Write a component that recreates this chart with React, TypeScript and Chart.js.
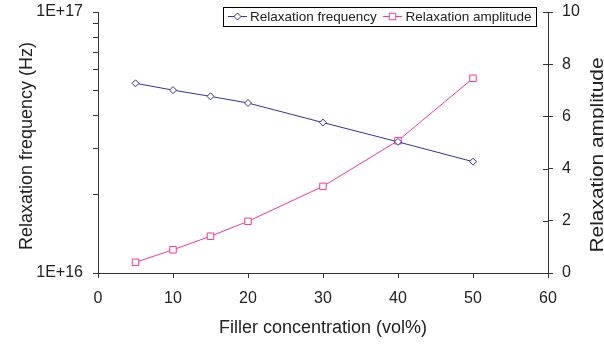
import React, { useEffect, useRef } from 'react';
import { Chart, registerables } from 'chart.js';

Chart.register(...registerables);

// Filler concentration (vol%) of each sample
const fillerConc = [5, 10, 15, 20, 30, 40, 50];
// Relaxation frequency (Hz), left logarithmic axis
const relaxFrequency = [5.33e16, 5.02e16, 4.75e16, 4.48e16, 3.77e16, 3.18e16, 2.67e16];
// Relaxation amplitude, right linear axis
const relaxAmplitude = [0.41, 0.89, 1.41, 1.98, 3.32, 5.07, 7.46];

const seriesNames = ['Relaxation frequency', 'Relaxation amplitude'];
const freqTicks = [1e16, 2e16, 3e16, 4e16, 5e16, 6e16, 7e16, 8e16, 9e16, 1e17];
const freqTickLabels = ['1E+16', '1E+17'];
const ampTicks = [0, 2, 4, 6, 8, 10];
const concTicks = [0, 10, 20, 30, 40, 50, 60];

const xTitle = 'Filler concentration (vol%)';
const yLeftTitle = 'Relaxation frequency (Hz)';
const yRightTitle = 'Relaxation amplitude';

const FONT = 'Arial, "Liberation Sans", sans-serif';
const TEXT = '#222222';
const AXIS = '#333333';
const FREQ_COLOR = '#333399';
const AMP_COLOR = '#F0399A';

function drawMarker(ctx: CanvasRenderingContext2D, style: string, r: number, x: number, y: number, color: string) {
  ctx.save();
  ctx.strokeStyle = color;
  ctx.fillStyle = '#ffffff';
  ctx.lineWidth = 1;
  ctx.beginPath();
  if (style === 'rectRot') {
    ctx.moveTo(x - r, y);
    ctx.lineTo(x, y - r);
    ctx.lineTo(x + r, y);
    ctx.lineTo(x, y + r);
    ctx.closePath();
  } else {
    const s = Math.SQRT1_2 * r;
    ctx.rect(x - s, y - s, 2 * s, 2 * s);
  }
  ctx.fill();
  ctx.stroke();
  ctx.restore();
}

// Axis titles, crossing right-axis ticks and the boxed legend
const overlayPlugin = {
  id: 'overlay',
  afterDraw(chart: any) {
    const { ctx, chartArea, scales } = chart;
    const right = scales.yAmp;
    ctx.save();

    ctx.strokeStyle = AXIS;
    ctx.lineWidth = 1;
    ctx.beginPath();
    for (const v of ampTicks) {
      const py = Math.round(right.getPixelForValue(v)) + 0.5;
      ctx.moveTo(chartArea.right - 5, py);
      ctx.lineTo(chartArea.right, py);
    }
    ctx.stroke();

    ctx.fillStyle = TEXT;
    ctx.font = `18px ${FONT}`;
    ctx.textAlign = 'center';
    ctx.textBaseline = 'alphabetic';
    ctx.fillText(xTitle, (chartArea.left + chartArea.right) / 2, 333);

    ctx.save();
    ctx.translate(31.5, 146);
    ctx.rotate(-Math.PI / 2);
    ctx.fillText(yLeftTitle, 0, 0);
    ctx.restore();

    ctx.save();
    ctx.translate(603, 155);
    ctx.rotate(-Math.PI / 2);
    ctx.scale(1.16, 1);
    ctx.fillText(yRightTitle, 0, 0);
    ctx.restore();

    const bx = 223.5, by = 7.5, bw = 313, bh = 19;
    ctx.fillStyle = '#ffffff';
    ctx.fillRect(bx, by, bw, bh);
    ctx.strokeStyle = '#000000';
    ctx.strokeRect(bx, by, bw, bh);

    const cy = 16.5;
    const entries = [
      { x0: 228, color: FREQ_COLOR, style: 'rectRot', radius: 3.5, tx: 250 },
      { x0: 383, color: AMP_COLOR, style: 'rect', radius: 4.6, tx: 405.5 },
    ];
    ctx.font = `13.5px ${FONT}`;
    ctx.textAlign = 'left';
    ctx.textBaseline = 'middle';
    entries.forEach((e, i) => {
      ctx.strokeStyle = e.color;
      ctx.lineWidth = 1;
      ctx.beginPath();
      ctx.moveTo(e.x0, cy);
      ctx.lineTo(e.x0 + 19, cy);
      ctx.stroke();
      drawMarker(ctx, e.style, e.radius, e.x0 + 9.5, cy, e.color);
      ctx.fillStyle = TEXT;
      ctx.fillText(seriesNames[i], e.tx, cy + 0.5);
    });

    ctx.restore();
  },
};

export default function App() {
  const canvasRef = useRef<HTMLCanvasElement | null>(null);

  useEffect(() => {
    const canvas = canvasRef.current;
    if (!canvas) return;

    const chart = new Chart(canvas, {
      type: 'line',
      data: {
        datasets: [
          {
            label: seriesNames[0],
            data: fillerConc.map((x, i) => ({ x, y: relaxFrequency[i] })),
            yAxisID: 'yFreq',
            borderColor: FREQ_COLOR,
            borderWidth: 1,
            pointStyle: 'rectRot',
            pointRadius: 3.5,
            pointBackgroundColor: '#ffffff',
            pointBorderColor: FREQ_COLOR,
            pointBorderWidth: 1,
            tension: 0,
          },
          {
            label: seriesNames[1],
            data: fillerConc.map((x, i) => ({ x, y: relaxAmplitude[i] })),
            yAxisID: 'yAmp',
            borderColor: AMP_COLOR,
            borderWidth: 1,
            pointStyle: 'rect',
            pointRadius: 4.6,
            pointBackgroundColor: '#ffffff',
            pointBorderColor: AMP_COLOR,
            pointBorderWidth: 1,
            tension: 0,
          },
        ],
      },
      options: {
        responsive: false,
        animation: false,
        events: [],
        layout: { padding: { top: 12, left: 0, right: 0, bottom: 0 } },
        plugins: {
          legend: { display: false },
          tooltip: { enabled: false },
        },
        scales: {
          x: {
            type: 'linear',
            position: 'bottom',
            min: 0,
            max: 60,
            afterBuildTicks: (scale: any) => {
              scale.ticks = concTicks.map((value) => ({ value }));
            },
            afterFit: (scale: any) => {
              scale.height = 72;
            },
            grid: { drawOnChartArea: false, drawTicks: true, tickLength: 5, color: AXIS },
            border: { display: true, color: AXIS, width: 1 },
            ticks: {
              padding: 11,
              color: TEXT,
              font: { family: FONT, size: 16 },
              maxRotation: 0,
              autoSkip: false,
            },
          },
          yFreq: {
            type: 'logarithmic',
            position: 'left',
            min: 1e16,
            max: 1e17,
            afterBuildTicks: (scale: any) => {
              scale.ticks = freqTicks.map((value) => ({ value }));
            },
            afterFit: (scale: any) => {
              scale.width = 98;
              scale.paddingTop = 0;
              scale.paddingBottom = 0;
            },
            grid: { drawOnChartArea: false, drawTicks: true, tickLength: 5, color: AXIS },
            border: { display: true, color: AXIS, width: 1 },
            ticks: {
              padding: 10,
              color: TEXT,
              font: { family: FONT, size: 16 },
              autoSkip: false,
              callback: (value: any) => {
                if (value === freqTicks[0]) return freqTickLabels[0];
                if (value === freqTicks[freqTicks.length - 1]) return freqTickLabels[1];
                return '';
              },
            },
          },
          yAmp: {
            type: 'linear',
            position: 'right',
            min: 0,
            max: 10,
            afterBuildTicks: (scale: any) => {
              scale.ticks = ampTicks.map((value) => ({ value }));
            },
            afterFit: (scale: any) => {
              scale.width = 56;
              scale.paddingTop = 0;
              scale.paddingBottom = 0;
            },
            grid: { drawOnChartArea: false, drawTicks: true, tickLength: 5, color: AXIS },
            border: { display: true, color: AXIS, width: 1 },
            ticks: {
              padding: 9,
              color: TEXT,
              font: { family: FONT, size: 16 },
              autoSkip: false,
            },
          },
        },
      },
      plugins: [overlayPlugin],
    } as any);

    return () => chart.destroy();
  }, []);

  return (
    <div style={{ position: 'fixed', left: 0, top: 0, width: 604, height: 345, background: '#ffffff' }}>
      <canvas ref={canvasRef} width={604} height={345} />
    </div>
  );
}
